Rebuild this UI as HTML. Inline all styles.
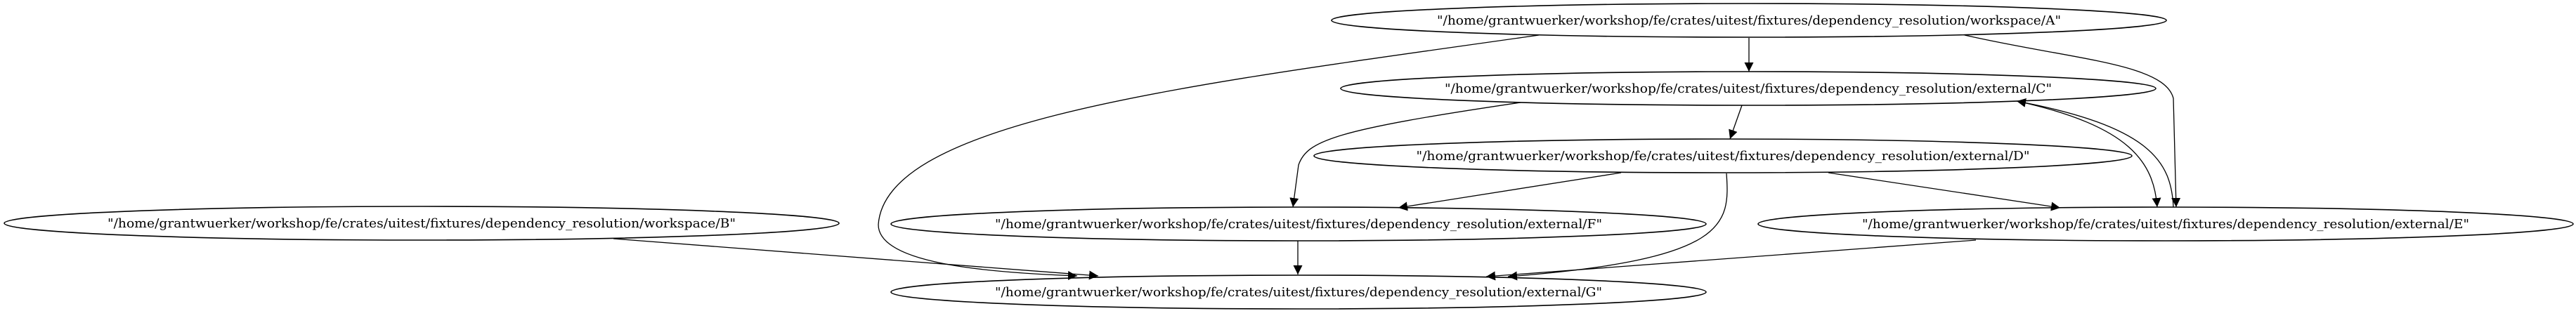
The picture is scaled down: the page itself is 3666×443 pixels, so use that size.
<!DOCTYPE html>
<html><head><meta charset="utf-8"><style>
html,body{margin:0;padding:0;background:#fff;width:3666px;height:443px;overflow:hidden}
svg{display:block}
text{font-family:"DejaVu Serif","Liberation Serif",serif;font-size:18px;fill:#000}
</style></head><body>
<svg width="3666" height="443" viewBox="0 0 3666 443" xmlns="http://www.w3.org/2000/svg">
<defs><marker id="ar" viewBox="0 0 10 10" refX="10" refY="5" markerWidth="13" markerHeight="13" markerUnits="userSpaceOnUse" orient="auto"><path d="M0,0L10,5L0,10z" fill="#000"/></marker></defs>
<g fill="none" stroke="#000" stroke-width="1.6">
<ellipse cx="2489" cy="29" rx="594" ry="24"/>
<ellipse cx="2488" cy="126" rx="580" ry="24"/>
<ellipse cx="2452" cy="222" rx="582" ry="24"/>
<ellipse cx="600" cy="318" rx="594" ry="24"/>
<ellipse cx="1848" cy="319" rx="580" ry="24"/>
<ellipse cx="3082" cy="319" rx="580" ry="24"/>
<ellipse cx="1848" cy="416" rx="580" ry="24"/>
</g>
<g fill="none" stroke="#000" stroke-width="1.3" marker-end="url(#ar)">
<path d="M2489,54 L2489,102"/>
<path d="M2190,50 C1700,120 1260,170 1250,320 C1250,375 1400,388 1533,393"/>
<path d="M2796,50 C2950,85 3080,90 3093,140 L3097,295"/>
<path d="M2479,150 L2462,198"/>
<path d="M2164,146 C1900,185 1860,200 1848,235 L1840,295"/>
<path d="M2875,145 C3030,180 3065,230 3070,295"/>
<path d="M3093,295 C3090,230 3060,180 2870,144"/>
<path d="M2307,246 L1990,296"/>
<path d="M2602,246 L2932,296"/>
<path d="M2457,247 C2462,320 2460,370 2146,394"/>
<path d="M1847,343 L1847,391"/>
<path d="M2812,342 L2115,394"/>
<path d="M873,340 L1563,393"/>
</g>
<g text-anchor="middle">
<text x="2489" y="35" textLength="888" lengthAdjust="spacingAndGlyphs">"/home/grantwuerker/workshop/fe/crates/uitest/fixtures/dependency_resolution/workspace/A"</text>
<text x="2488" y="132" textLength="864" lengthAdjust="spacingAndGlyphs">"/home/grantwuerker/workshop/fe/crates/uitest/fixtures/dependency_resolution/external/C"</text>
<text x="2452" y="228" textLength="873" lengthAdjust="spacingAndGlyphs">"/home/grantwuerker/workshop/fe/crates/uitest/fixtures/dependency_resolution/external/D"</text>
<text x="600" y="324" textLength="894" lengthAdjust="spacingAndGlyphs">"/home/grantwuerker/workshop/fe/crates/uitest/fixtures/dependency_resolution/workspace/B"</text>
<text x="1848" y="325" textLength="864" lengthAdjust="spacingAndGlyphs">"/home/grantwuerker/workshop/fe/crates/uitest/fixtures/dependency_resolution/external/F"</text>
<text x="3082" y="325" textLength="864" lengthAdjust="spacingAndGlyphs">"/home/grantwuerker/workshop/fe/crates/uitest/fixtures/dependency_resolution/external/E"</text>
<text x="1848" y="422" textLength="864" lengthAdjust="spacingAndGlyphs">"/home/grantwuerker/workshop/fe/crates/uitest/fixtures/dependency_resolution/external/G"</text>
</g>
</svg>
</body></html>
